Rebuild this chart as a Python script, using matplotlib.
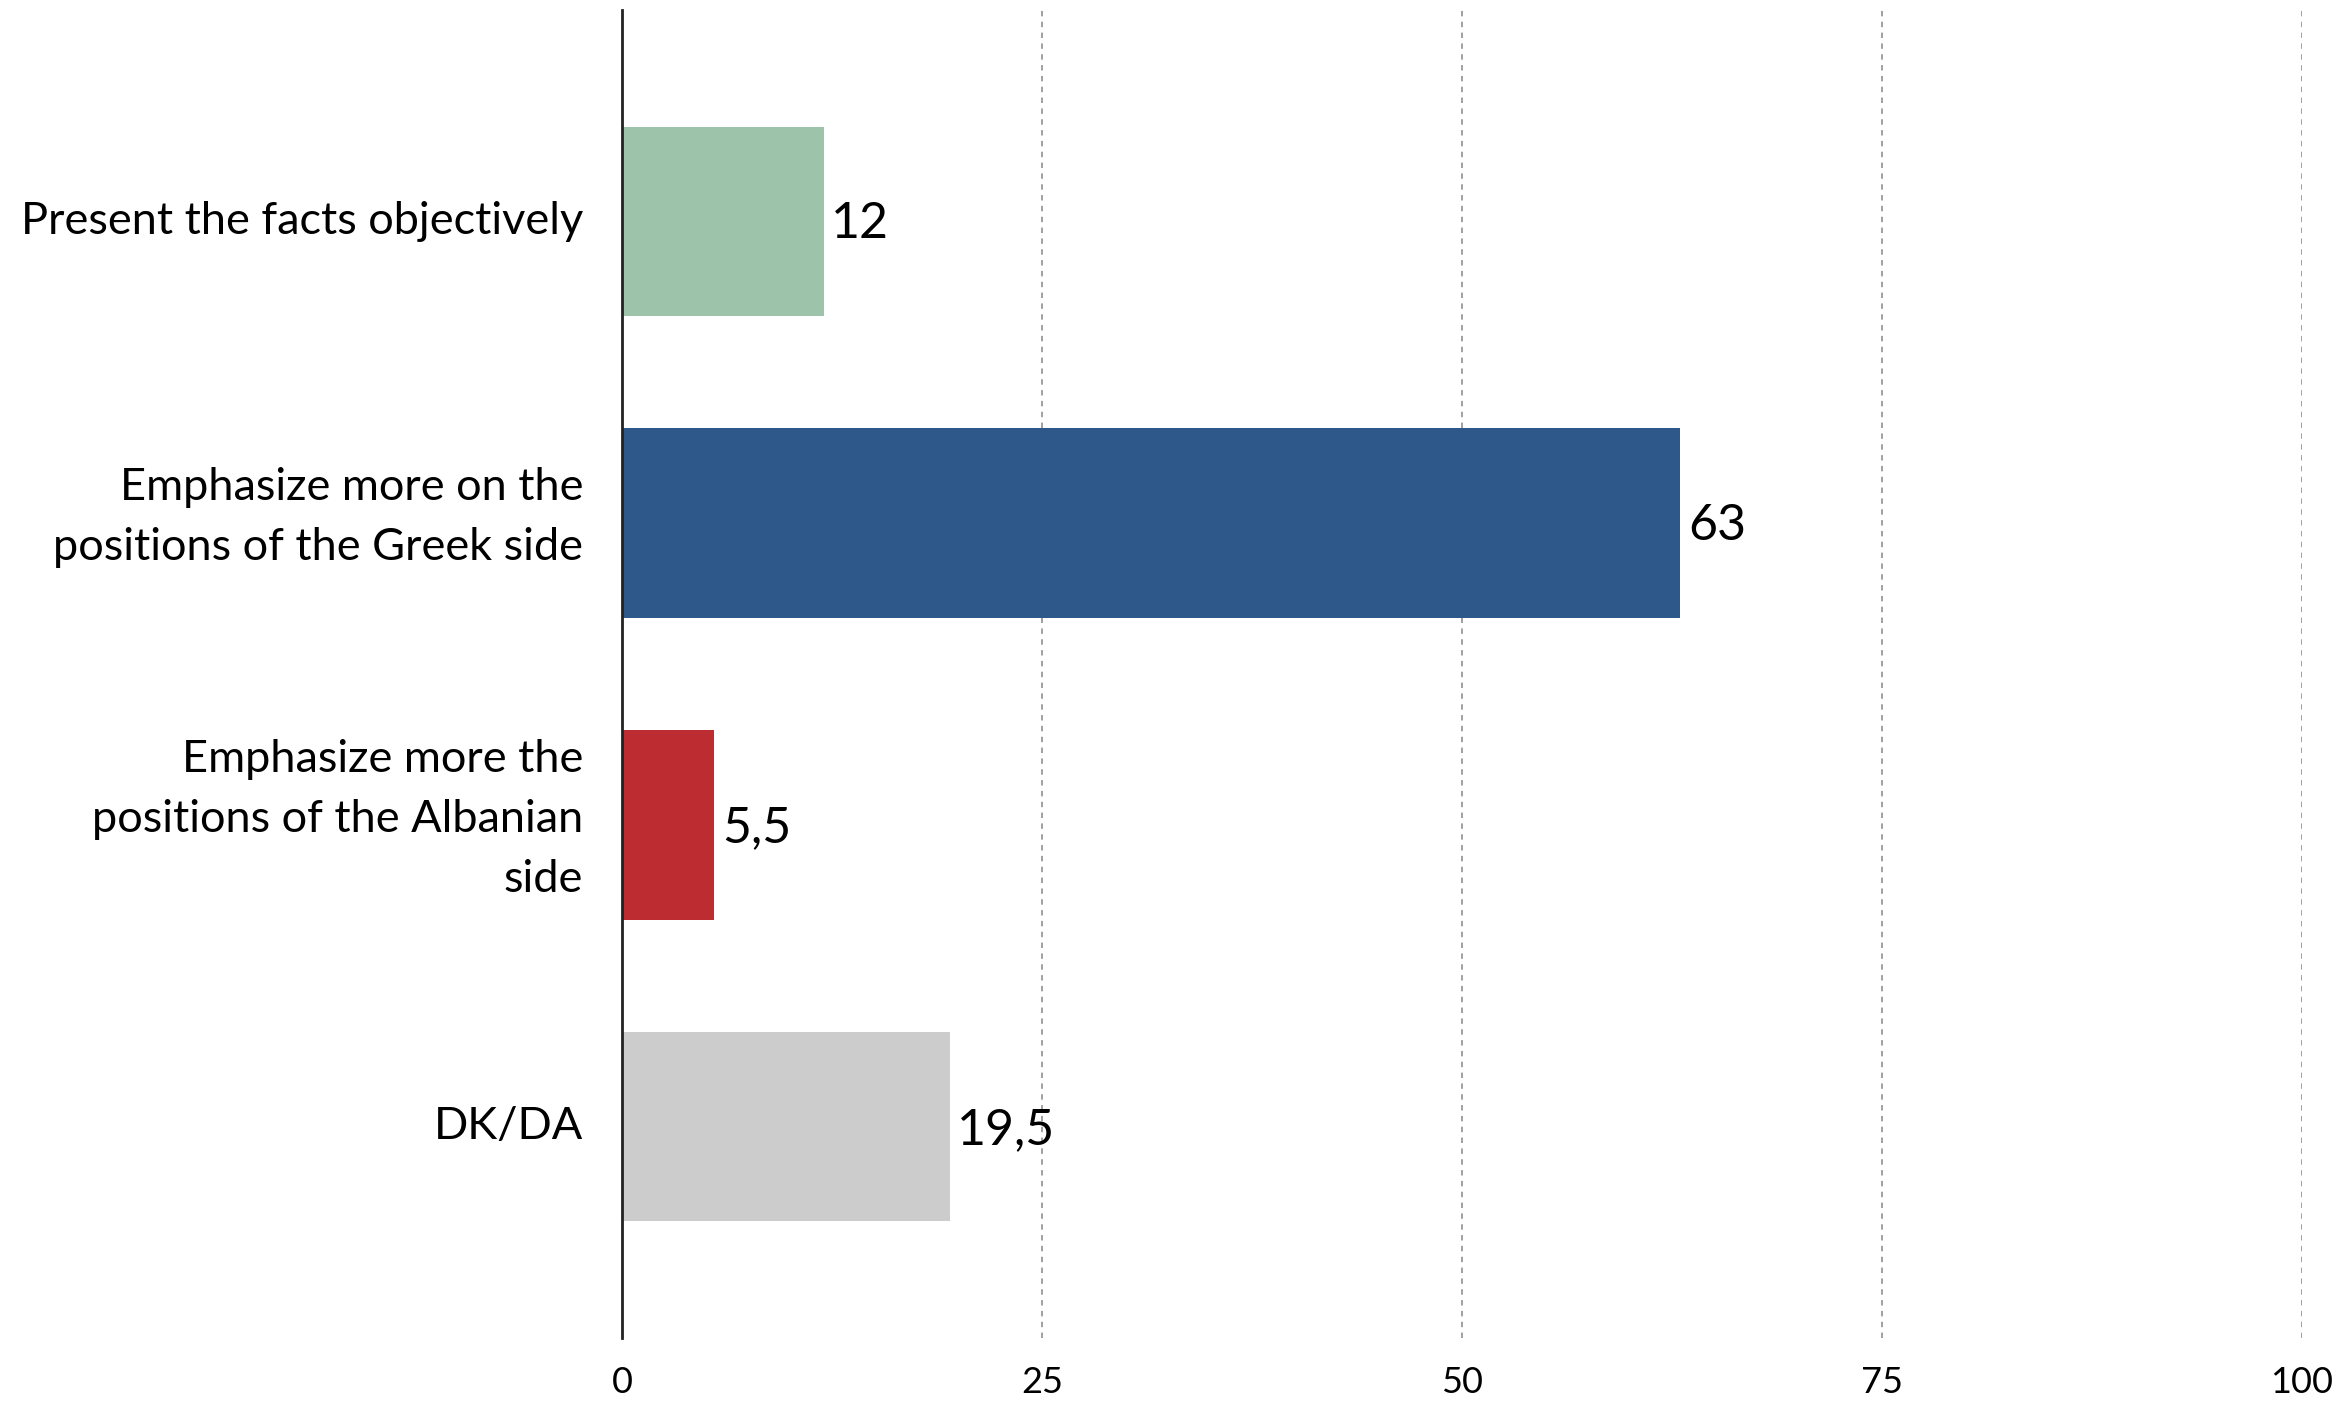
import matplotlib.pyplot as plt
import matplotlib.transforms as mtransforms

plt.rcParams['font.family'] = ['Lato', 'DejaVu Sans']

categories = [
    "Present the facts objectively",
    "Emphasize more on the\npositions of the Greek side",
    "Emphasize more the\npositions of the Albanian\nside",
    "DK/DA",
]
values = [12, 63, 5.5, 19.5]
value_labels = ["12", "63", "5,5", "19,5"]
colors = ["#9dc3ab", "#2e5889", "#bd2c31", "#cccccc"]
xticks = [0, 25, 50, 75, 100]


def draw():
    fig = plt.figure(figsize=(23.51, 14.02), dpi=100)
    ax = fig.add_axes([0.2646, 0.0456, 0.7144, 0.9473])

    ypos = list(range(len(categories)))
    ax.barh(ypos, values, height=0.627, color=colors, zorder=3)

    for y, v, lab in zip(ypos, values, value_labels):
        ax.text(v + 0.45, y + 0.01, lab, va='center', ha='left', fontsize=36)

    ax.set_xlim(0, 100)
    ax.set_ylim(3.70, -0.70)
    ax.set_xticks(xticks)
    ax.set_xticklabels([str(t) for t in xticks], fontsize=26)
    ax.set_yticks(ypos)
    ax.set_yticklabels(categories, fontsize=32.5, linespacing=1.58)
    ax.tick_params(axis='both', length=0)
    ax.tick_params(axis='y', pad=28)
    ax.tick_params(axis='x', pad=20)

    # nudge the category labels up a little, like the original
    for lab in ax.get_yticklabels():
        dy = 13.5 / 72 if '\n' in lab.get_text() else 3 / 72
        lab.set_transform(lab.get_transform() +
                          mtransforms.ScaledTranslation(0, dy, fig.dpi_scale_trans))

    for x in xticks[1:]:
        ax.axvline(x, color='#999999', linestyle=(0, (3, 3)), linewidth=1.3, zorder=1)

    for s in ['top', 'right', 'bottom']:
        ax.spines[s].set_visible(False)
    ax.spines['left'].set_linewidth(2)
    ax.spines['left'].set_color('#222222')
    ax.spines['left'].set_zorder(4)

    fig.savefig('out.png', dpi=100)


if __name__ == "__main__":
    draw()
